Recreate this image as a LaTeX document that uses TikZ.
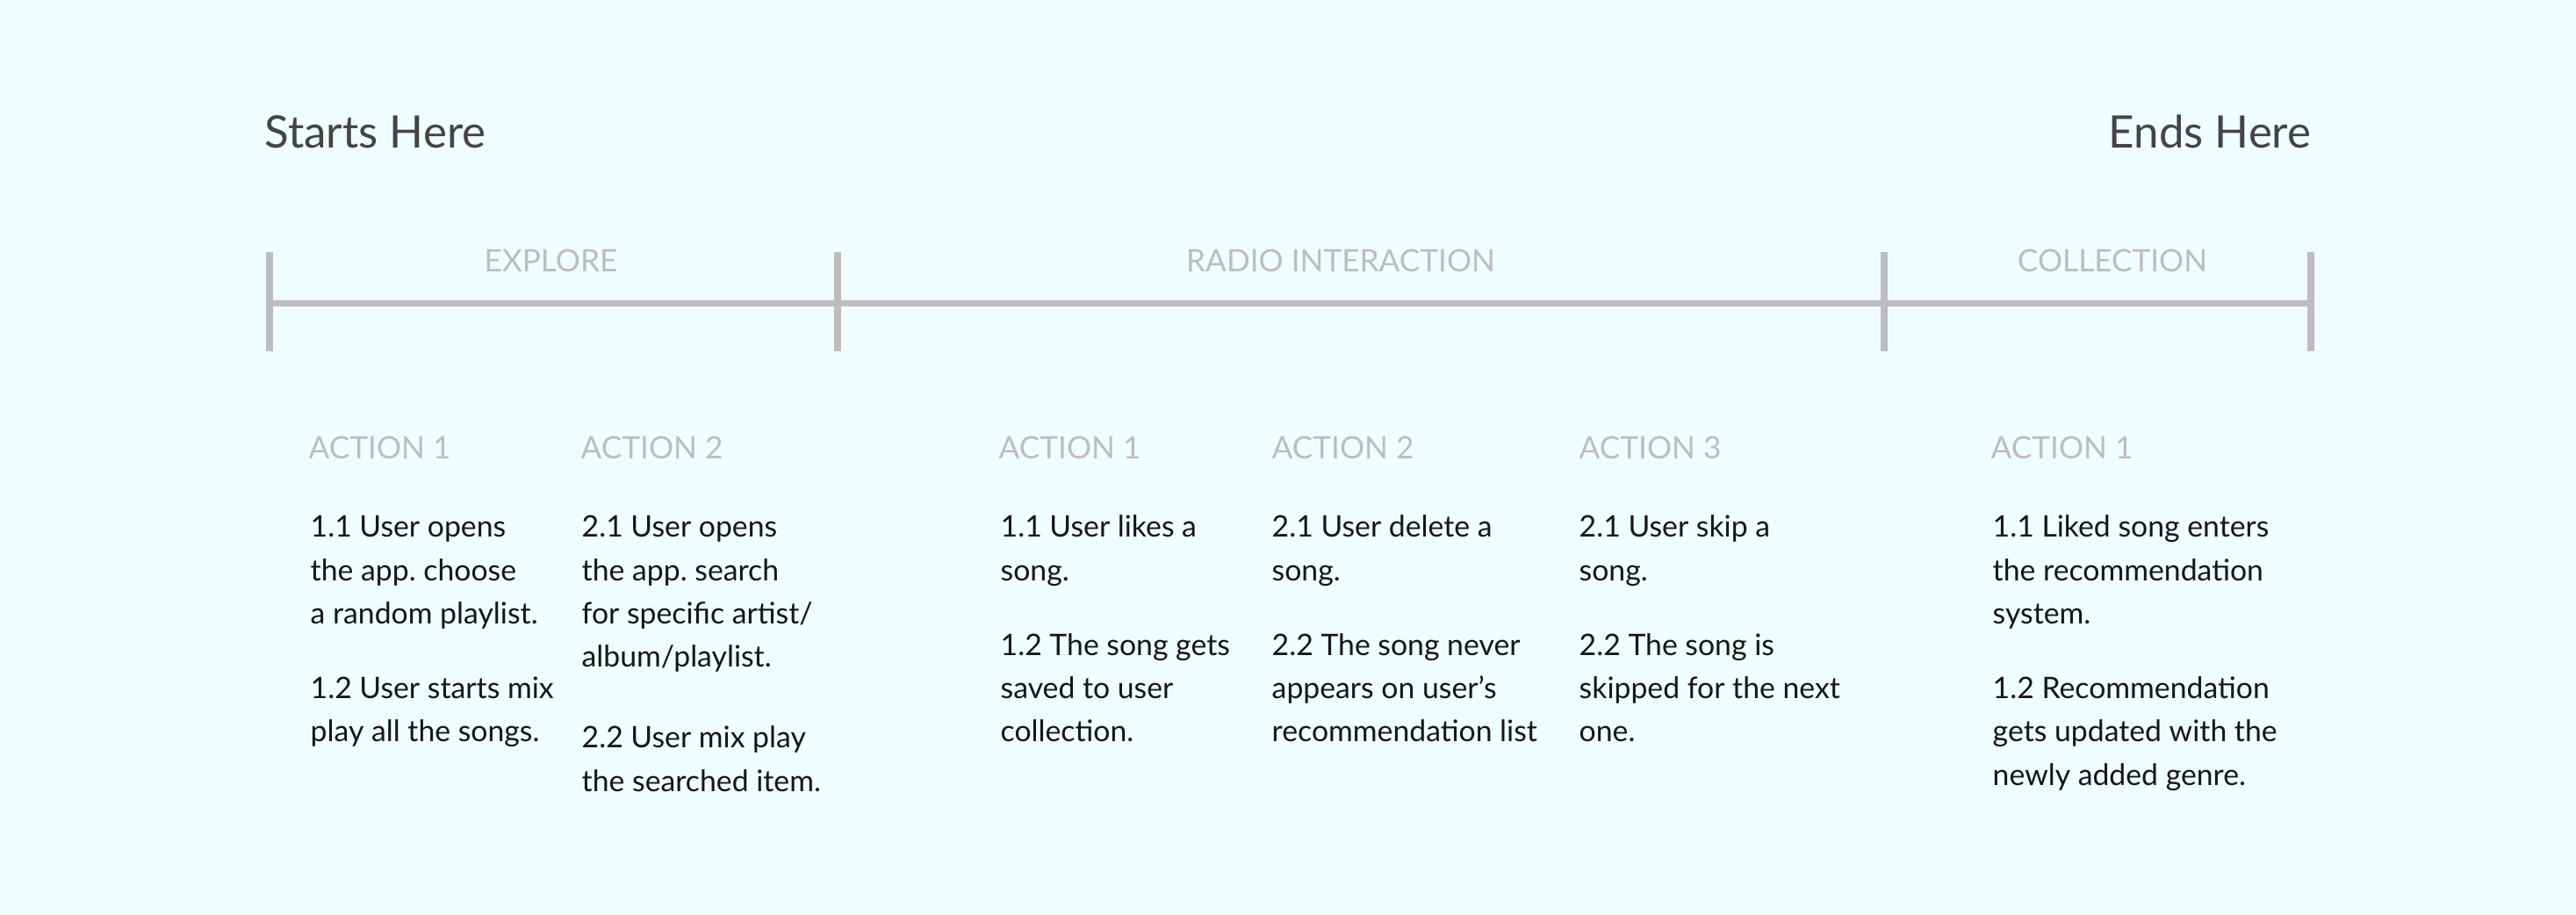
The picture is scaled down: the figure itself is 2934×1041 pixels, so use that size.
\documentclass[tikz,border=0pt]{standalone}
\usepackage{fontspec}
\setmainfont{Lato}
\usepackage{tikz}
\usetikzlibrary{positioning}
\frenchspacing
\definecolor{bgcyan}{RGB}{239,253,255}
\definecolor{rulegray}{RGB}{189,189,189}
\definecolor{titlegray}{RGB}{68,68,68}
\definecolor{bodyblack}{RGB}{22,22,22}
\tikzset{timeline/.style = {draw=rulegray, line width=0.07cm}}
\tikzset{tickmark/.style = {draw=rulegray, line width=0.075cm}}
\tikzset{heading/.style = {inner sep=0, text=titlegray, font=\fontsize{14.5}{18}\selectfont}}
\tikzset{phase/.style = {inner sep=0, anchor=base, text=rulegray, font=\fontsize{10}{12}\selectfont}}
\tikzset{action/.style = {inner sep=0, anchor=base west, text=rulegray, font=\fontsize{10}{12}\selectfont}}
\tikzset{body/.style = {inner sep=0, anchor=base west, align=left, text=bodyblack, font=\fontsize{9.6}{14.02}\selectfont}}

\begin{document}
\begin{tikzpicture}[x=0.01cm, y=-0.01cm]
      \fill [bgcyan] (0, 0) rectangle (2934, 1041);
      \useasboundingbox (0, 0) rectangle (2934, 1041);

      \node [heading, anchor=base west] (start) at (301, 168) {Starts Here};
      \node [heading, anchor=base east] (end) at (2633, 168) {Ends Here};

      \coordinate (t0) at (307, 345.7);
      \coordinate (t1) at (954, 345.7);
      \coordinate (t2) at (2146, 345.7);
      \coordinate (t3) at (2632, 345.7);
      \draw [timeline] (t0) -- (t3);
      \draw [tickmark] (307, 287) -- (307, 400);
      \draw [tickmark] (954, 287) -- (954, 400);
      \draw [tickmark] (2146, 287) -- (2146, 400);
      \draw [tickmark] (2632, 287) -- (2632, 400);

      \node [phase] (explore) at (627.5, 309) {EXPLORE};
      \node [phase] (radio) at (1527, 309) {RADIO INTERACTION};
      \node [phase] (collection) at (2406, 309) {COLLECTION};

      \node [action] (ea1) at (351, 522) {ACTION 1};
      \node [action] (ea2) at (661, 522) {ACTION 2};
      \node [action] (ra1) at (1137, 522) {ACTION 1};
      \node [action] (ra2) at (1448, 522) {ACTION 2};
      \node [action] (ra3) at (1798, 522) {ACTION 3};
      \node [action] (ca1) at (2267, 522) {ACTION 1};

      \node [body] (eb1) at (353, 844.7) {1.1 User opens\\the app. choose\\a random playlist.\\[0.357cm]1.2 User starts mix\\play all the songs.};
      \node [body] (eb2) at (662, 901) {2.1 User opens\\the app. search\\for specific artist/\\album/playlist.\\[0.427cm]2.2 User mix play\\the searched item.};
      \node [body] (rb1) at (1139, 844.7) {1.1 User likes a\\song.\\[0.357cm]1.2 The song gets\\saved to user\\collection.};
      \node [body] (rb2) at (1448, 844.7) {2.1 User delete a\\song.\\[0.357cm]2.2 The song never\\appears on user’s\\recommendation list};
      \node [body] (rb3) at (1798, 844.7) {2.1 User skip a\\song.\\[0.357cm]2.2 The song is\\skipped for the next\\one.};
      \node [body] (cb1) at (2269, 894) {1.1 Liked song enters\\the recommendation\\system.\\[0.357cm]1.2 Recommendation\\gets updated with the\\newly added genre.};
    \end{tikzpicture}
\end{document}
